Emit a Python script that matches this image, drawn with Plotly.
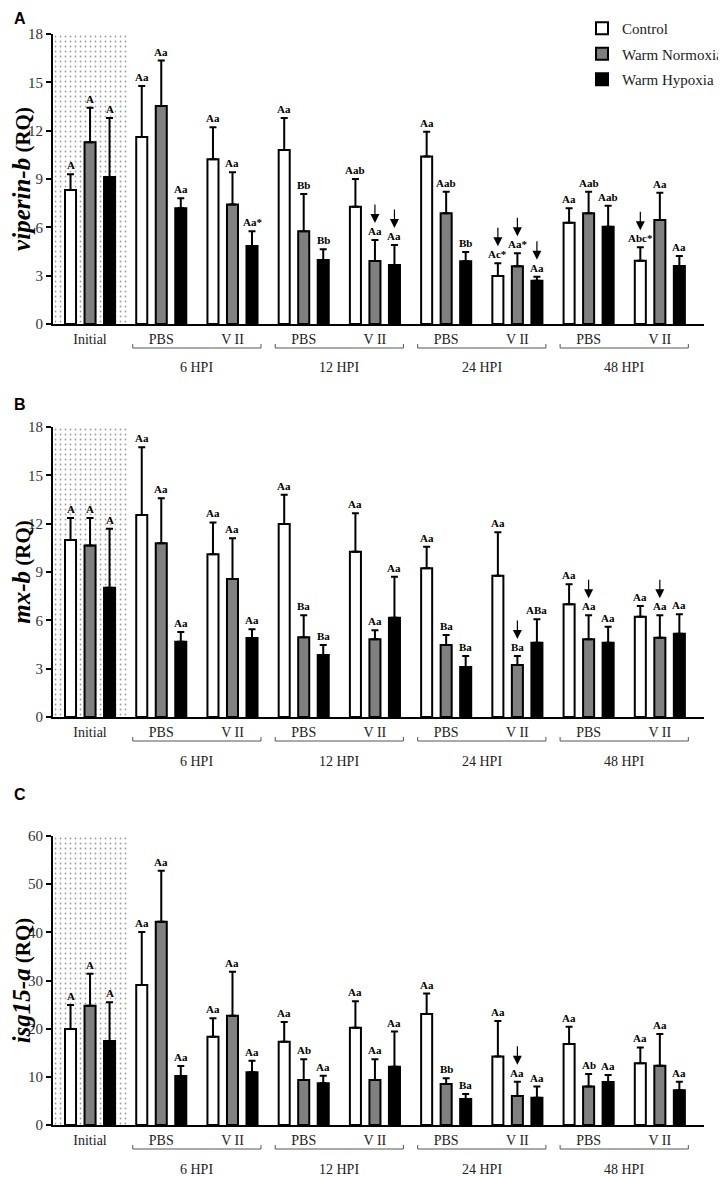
import plotly.graph_objects as go

groups = ["Initial", "PBS", "V II", "PBS", "V II", "PBS", "V II", "PBS", "V II"]
hpi = ["6 HPI", "12 HPI", "24 HPI", "48 HPI"]
series = ["Control", "Warm Normoxia", "Warm Hypoxia"]

# A: viperin-b
vip_ctrl = [8.32, 11.6, 10.22, 10.8, 7.28, 10.39, 2.98, 6.29, 3.93]
vip_ctrl_se = [0.97, 3.18, 1.99, 1.99, 1.72, 1.55, 0.79, 0.89, 0.83]
vip_norm = [11.28, 13.53, 7.41, 5.75, 3.91, 6.87, 3.58, 6.87, 6.46]
vip_norm_se = [2.15, 2.82, 2.01, 2.32, 1.30, 1.34, 0.81, 1.34, 1.69]
vip_hyp = [9.13, 7.18, 4.84, 3.97, 3.66, 3.89, 2.69, 6.04, 3.60]
vip_hyp_se = [3.66, 0.62, 0.91, 0.67, 1.24, 0.58, 0.25, 1.30, 0.62]
vip_lab_ctrl = ["A", "Aa", "Aa", "Aa", "Aab", "Aa", "Ac*", "Aa", "Abc*"]
vip_lab_norm = ["A", "Aa", "Aa", "Bb", "Aa", "Aab", "Aa*", "Aab", "Aa"]
vip_lab_hyp = ["A", "Aa", "Aa*", "Bb", "Aa", "Bb", "Aa", "Aab", "Aa"]
vip_arrows = [(0, 6), (0, 8), (1, 4), (1, 6), (2, 4), (2, 6)]

# B: mx-b
mx_ctrl = [10.99, 12.54, 10.10, 11.98, 10.26, 9.23, 8.77, 7.00, 6.23]
mx_ctrl_se = [1.36, 4.20, 1.98, 1.82, 2.38, 1.34, 2.69, 1.24, 0.66]
mx_norm = [10.64, 10.78, 8.57, 4.95, 4.82, 4.47, 3.23, 4.82, 4.92]
mx_norm_se = [1.71, 2.80, 2.52, 1.36, 0.56, 0.62, 0.56, 1.49, 1.39]
mx_hyp = [8.03, 4.67, 4.90, 3.85, 6.16, 3.10, 4.61, 4.61, 5.17]
mx_hyp_se = [3.66, 0.61, 0.54, 0.62, 2.55, 0.69, 1.45, 0.99, 1.20]
mx_lab_ctrl = ["A", "Aa", "Aa", "Aa", "Aa", "Aa", "Aa", "Aa", "Aa"]
mx_lab_norm = ["A", "Aa", "Aa", "Ba", "Aa", "Ba", "Ba", "Aa", "Aa"]
mx_lab_hyp = ["A", "Aa", "Aa", "Ba", "Aa", "Ba", "ABa", "Aa", "Aa"]
mx_arrows = [(1, 6), (1, 7), (1, 8)]

# C: isg15-a
isg_ctrl = [19.93, 29.06, 18.30, 17.30, 20.20, 23.04, 14.20, 16.80, 12.80]
isg_ctrl_se = [4.97, 11.01, 3.85, 4.10, 5.50, 4.26, 7.40, 3.60, 3.30]
isg_norm = [24.77, 42.20, 22.70, 9.34, 9.34, 8.51, 6.02, 7.97, 12.32]
isg_norm_se = [6.63, 10.60, 9.10, 4.29, 4.29, 1.18, 2.97, 2.63, 6.58]
isg_hyp = [17.44, 10.17, 10.94, 8.65, 12.11, 5.40, 5.67, 8.93, 7.20]
isg_hyp_se = [8.06, 2.08, 2.41, 1.59, 7.29, 1.04, 2.30, 1.45, 1.79]
isg_lab_ctrl = ["A", "Aa", "Aa", "Aa", "Aa", "Aa", "Aa", "Aa", "Aa"]
isg_lab_norm = ["A", "Aa", "Aa", "Ab", "Aa", "Bb", "Aa", "Ab", "Aa"]
isg_lab_hyp = ["A", "Aa", "Aa", "Aa", "Aa", "Ba", "Aa", "Aa", "Aa"]
isg_arrows = [(1, 6)]

panels = [
    dict(letter="A", gene="viperin-b", ymax=18, dtick=3,
         vals=[vip_ctrl, vip_norm, vip_hyp], errs=[vip_ctrl_se, vip_norm_se, vip_hyp_se],
         labs=[vip_lab_ctrl, vip_lab_norm, vip_lab_hyp], arrows=vip_arrows),
    dict(letter="B", gene="mx-b", ymax=18, dtick=3,
         vals=[mx_ctrl, mx_norm, mx_hyp], errs=[mx_ctrl_se, mx_norm_se, mx_hyp_se],
         labs=[mx_lab_ctrl, mx_lab_norm, mx_lab_hyp], arrows=mx_arrows),
    dict(letter="C", gene="isg15-a", ymax=60, dtick=10,
         vals=[isg_ctrl, isg_norm, isg_hyp], errs=[isg_ctrl_se, isg_norm_se, isg_hyp_se],
         labs=[isg_lab_ctrl, isg_lab_norm, isg_lab_hyp], arrows=isg_arrows),
]

# the page body adds an 8px margin, so the figure is shrunk by that much
PAD = 8
W, H = 726 - PAD, 1177 - PAD
PLOT_L, PLOT_R = 53, 704          # page px of the plot area
M_L, M_R = PLOT_L - PAD, 726 - PLOT_R
M_T, M_B = 34 - PAD, 1177 - 1125
PH = H - M_T - M_B
PW = W - M_L - M_R
panel_px = [(34, 324), (427, 717), (836, 1125)]
letter_py = [18, 404, 794]
XR = [-0.52, 8.62]
OFF = 0.274
BW = 0.155
fills = ["white", "#808080", "black"]
SERIF = "Liberation Serif"


def px_x(px):
    return (px - PAD - M_L) / PW


def px_y(py):
    return (H - M_B - (py - PAD)) / PH


fig = go.Figure()
layout = {}
for p, panel in enumerate(panels):
    n = "" if p == 0 else str(p + 1)
    xa, ya = "x" + n, "y" + n
    ymax = panel["ymax"]
    top_px, bot_px = panel_px[p]
    hpx = bot_px - top_px

    # dotted background behind the initial samples
    fig.add_trace(go.Bar(
        x=[0.015], y=[ymax], width=[1.03], xaxis=xa, yaxis=ya,
        marker=dict(color="white", line=dict(width=0),
                    pattern=dict(shape=".", fgcolor="#333", bgcolor="white", size=5, solidity=0.1)),
        showlegend=False, hoverinfo="skip"))

    for s in range(3):
        xs = [g + (s - 1) * OFF for g in range(9)]
        vals, errs, labs = panel["vals"][s], panel["errs"][s], panel["labs"][s]
        fig.add_trace(go.Bar(
            x=xs, y=vals, width=BW, xaxis=xa, yaxis=ya, name=series[s],
            marker=dict(color=fills[s], line=dict(color="black", width=2)),
            error_y=dict(type="data", symmetric=False, array=errs, arrayminus=[0] * 9,
                         color="black", thickness=2, width=3.5),
            showlegend=(p == 0), legendgroup=series[s]))
        for g in range(9):
            fig.add_annotation(
                x=xs[g], y=vals[g] + errs[g], xref=xa, yref=ya, text="<b>" + labs[g] + "</b>",
                showarrow=False, yanchor="bottom", yshift=1,
                font=dict(family=SERIF, size=11, color="black"))

    for s, g in panel["arrows"]:
        v = panel["vals"][s][g] + panel["errs"][s][g]
        fig.add_annotation(
            x=g + (s - 1) * OFF, y=v, xref=xa, yref=ya, text="", showarrow=True,
            yshift=17, ax=0, ay=-20, arrowhead=2, arrowsize=1.5, arrowwidth=1.2,
            arrowcolor="black", standoff=0)

    # brackets and HPI labels
    for k, lab in enumerate(hpi):
        left, right = 2 * k + 0.6, 2 * k + 2.4
        y1, y2 = -20 / hpx, -24 / hpx
        fig.add_shape(type="path", xref=xa, yref=ya + " domain",
                      path=f"M{left},{y1} L{left},{y2} L{right},{y2} L{right},{y1}",
                      line=dict(color="#555", width=1))
        fig.add_annotation(x=2 * k + 1.5, y=-44 / hpx, xref=xa, yref=ya + " domain",
                           text=lab, showarrow=False, yanchor="middle",
                           font=dict(family=SERIF, size=14, color="#222"))

    fig.add_annotation(x=px_x(12), y=px_y(letter_py[p]), xref="paper", yref="paper",
                       text="<b>" + panel["letter"] + "</b>", showarrow=False,
                       xanchor="left", yanchor="middle",
                       font=dict(family="Liberation Sans", size=16, color="black"))

    title = ("<b><i><span style='font-size:25px'>" + panel["gene"] + "</span></i> (RQ)</b>")
    layout["xaxis" + n] = dict(
        domain=[0, 1], anchor=ya, range=XR, showline=True, linecolor="black", linewidth=2,
        tickvals=list(range(9)), ticktext=groups, ticks="outside", ticklen=1,
        tickcolor="rgba(0,0,0,0)", tickfont=dict(family=SERIF, size=14, color="#222"),
        showgrid=False, zeroline=False, fixedrange=True)
    layout["yaxis" + n] = dict(
        domain=[px_y(bot_px), px_y(top_px)], anchor=xa, range=[0, ymax], dtick=panel["dtick"],
        ticks="outside", ticklen=5, tickwidth=2, tickcolor="black",
        showline=True, linewidth=2, linecolor="black", showgrid=False, zeroline=False,
        tickfont=dict(family=SERIF, size=15, color="#333"),
        title=dict(text=title, font=dict(family=SERIF, size=21, color="black"), standoff=4))

fig.update_layout(
    **layout,
    barmode="overlay",
    width=W, height=H,
    margin=dict(l=M_L, r=M_R, t=M_T, b=M_B, autoexpand=False),
    paper_bgcolor="white", plot_bgcolor="white",
    legend=dict(x=px_x(582), y=px_y(12), xanchor="left", yanchor="top",
                font=dict(family=SERIF, size=15, color="#222"), tracegroupgap=3,
                bgcolor="rgba(0,0,0,0)"),
)

fig.write_html("out.html")
